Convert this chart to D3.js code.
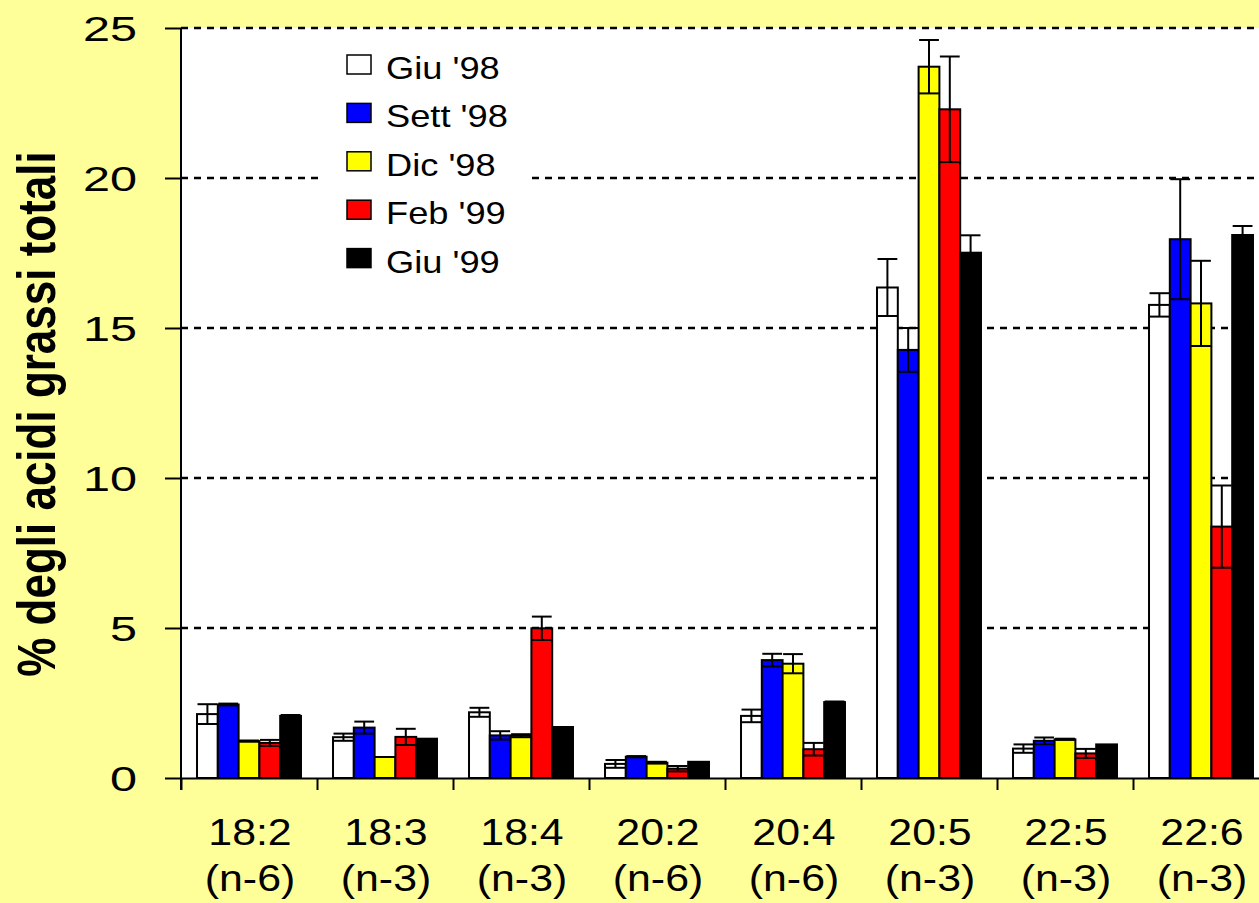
<!DOCTYPE html>
<html>
<head>
<meta charset="utf-8">
<script src="https://cdn.jsdelivr.net/npm/d3@7/dist/d3.min.js"></script>
<style>
  html, body { margin: 0; padding: 0; background: #FFFF99; }
  svg { display: block; font-family: Arial, "Liberation Sans", sans-serif; }
</style>
</head>
<body>
<svg id="chart" width="1259" height="903"></svg>
<script>
// Fatty acids (x groups), two-line labels
const acids = ["18:2", "18:3", "18:4", "20:2", "20:4", "20:5", "22:5", "22:6"];
const families = ["(n-6)", "(n-3)", "(n-3)", "(n-6)", "(n-6)", "(n-3)", "(n-3)", "(n-3)"];

// Sampling dates (series)
const seriesNames = ["Giu '98", "Sett '98", "Dic '98", "Feb '99", "Giu '99"];
const seriesColors = ["#FFFFFF", "#0000FF", "#FFFF00", "#FF0000", "#000000"];

// Mean % of total fatty acids, per series, in acid order
const giu98  = [2.13, 1.36, 2.19, 0.47, 2.07, 16.35, 0.98, 15.77];
const sett98 = [2.45, 1.68, 1.42, 0.71, 3.93, 14.27, 1.24, 17.96];
const dic98  = [1.23, 0.70, 1.41, 0.51, 3.81, 23.71, 1.29, 15.82];
const feb99  = [1.17, 1.37, 4.99, 0.31, 0.96, 22.29, 0.82, 8.38];
const giu99  = [2.07, 1.31, 1.70, 0.54, 2.53, 17.51, 1.12, 18.10];

// Error (± deviation) per series
const giu98Err  = [0.33, 0.12, 0.15, 0.13, 0.21, 0.95, 0.14, 0.39];
const sett98Err = [0.03, 0.20, 0.14, 0.02, 0.21, 0.73, 0.11, 2.00];
const dic98Err  = [0.02, 0.00, 0.05, 0.03, 0.32, 0.89, 0.02, 1.42];
const feb99Err  = [0.10, 0.27, 0.39, 0.09, 0.21, 1.76, 0.15, 1.37];
const giu99Err  = [0.03, 0.00, 0.00, 0.00, 0.02, 0.58, 0.00, 0.30];

const yTicks = [0, 5, 10, 15, 20, 25];

const values = [giu98, sett98, dic98, feb99, giu99];
const errors = [giu98Err, sett98Err, dic98Err, feb99Err, giu99Err];

const rows = [];
acids.forEach((a, i) => {
  seriesNames.forEach((s, j) => {
    rows.push({ acid: a, series: s, color: seriesColors[j], value: values[j][i], err: errors[j][i] });
  });
});

const svg = d3.select("#chart");
const W = 1259, H = 903;
const plotLeft = 181, plotTop = 28, plotBottom = 778;
const groupW = 136;

const y = d3.scaleLinear().domain([0, 25]).range([plotBottom, plotTop]);
const x0 = d3.scaleBand().domain(acids).range([plotLeft, plotLeft + groupW * acids.length]).padding(0);
const x1 = d3.scaleBand().domain(seriesNames).range([0, x0.bandwidth()]).paddingInner(0).paddingOuter(0.77);
const xEdge = d3.scaleLinear().domain([0, acids.length]).range([plotLeft, plotLeft + groupW * acids.length]);

// Background
svg.append("rect").attr("x", 0).attr("y", 0).attr("width", W).attr("height", H).attr("fill", "#FFFF99");
svg.append("rect").attr("x", plotLeft).attr("y", plotTop).attr("width", W - plotLeft).attr("height", plotBottom - plotTop).attr("fill", "#FFFFFF");

// Dashed gridlines
svg.append("g").selectAll("line")
  .data(yTicks.filter(d => d > 0))
  .join("line")
  .attr("x1", plotLeft).attr("x2", W)
  .attr("y1", d => y(d)).attr("y2", d => y(d))
  .attr("stroke", "#000").attr("stroke-width", 2.5)
  .attr("stroke-dasharray", "7,6");

// Legend panel sits on top of the grid
svg.append("rect").attr("x", 320).attr("y", 42).attr("width", 212).attr("height", 246).attr("fill", "#FFFFFF");

// Bars
const groups = svg.append("g").selectAll("g")
  .data(acids)
  .join("g")
  .attr("transform", d => `translate(${x0(d)},0)`);

groups.selectAll("rect")
  .data(a => rows.filter(r => r.acid === a))
  .join("rect")
  .attr("x", d => x1(d.series))
  .attr("y", d => y(d.value))
  .attr("width", x1.bandwidth())
  .attr("height", d => y(0) - y(d.value))
  .attr("fill", d => d.color)
  .attr("stroke", "#000")
  .attr("stroke-width", 2);

// Error bars with caps
const eb = groups.selectAll("g.err")
  .data(a => rows.filter(r => r.acid === a && r.err > 0))
  .join("g").attr("class", "err")
  .attr("stroke", "#000").attr("stroke-width", 2);
const capHalf = x1.bandwidth() / 2 - 0.5;
eb.append("line")
  .attr("x1", d => x1(d.series) + x1.bandwidth() / 2)
  .attr("x2", d => x1(d.series) + x1.bandwidth() / 2)
  .attr("y1", d => y(d.value + d.err))
  .attr("y2", d => y(d.value - d.err));
eb.append("line")
  .attr("x1", d => x1(d.series) + x1.bandwidth() / 2 - capHalf)
  .attr("x2", d => x1(d.series) + x1.bandwidth() / 2 + capHalf)
  .attr("y1", d => y(d.value + d.err))
  .attr("y2", d => y(d.value + d.err));
eb.append("line")
  .attr("x1", d => x1(d.series) + x1.bandwidth() / 2 - capHalf)
  .attr("x2", d => x1(d.series) + x1.bandwidth() / 2 + capHalf)
  .attr("y1", d => y(d.value - d.err))
  .attr("y2", d => y(d.value - d.err));

// Y axis
const yAxis = svg.append("g")
  .attr("transform", `translate(${plotLeft},0)`)
  .call(d3.axisLeft(y).tickValues(yTicks).tickSize(16).tickPadding(28).tickSizeOuter(0));
yAxis.select(".domain").remove();
yAxis.selectAll(".tick line").attr("stroke", "#000").attr("stroke-width", 2);
yAxis.selectAll(".tick text")
  .attr("font-size", 36)
  .attr("fill", "#000")
  .attr("font-family", "Arial, 'Liberation Sans', sans-serif")
  .each(function () {
    const t = d3.select(this);
    const tx = +t.attr("x");
    t.attr("x", 0).attr("dy", "0.36em").attr("transform", `translate(${tx},0) scale(1.35,1)`);
  });

// X axis with ticks at group boundaries
const xAxis = svg.append("g")
  .attr("transform", `translate(0,${plotBottom})`)
  .call(d3.axisBottom(xEdge).ticks(acids.length).tickFormat("").tickSize(12).tickSizeOuter(0));
xAxis.select(".domain").attr("stroke", "#000").attr("stroke-width", 2);
xAxis.selectAll(".tick line").attr("stroke", "#000").attr("stroke-width", 2);

// Y axis spine, running slightly below zero
svg.append("line")
  .attr("x1", plotLeft).attr("x2", plotLeft)
  .attr("y1", plotTop).attr("y2", plotBottom + 12)
  .attr("stroke", "#000").attr("stroke-width", 2);

// Category labels (two lines)
const xl = svg.append("g").selectAll("g")
  .data(acids)
  .join("g")
  .attr("transform", d => `translate(${x0(d) + x0.bandwidth() / 2 + 1},0) scale(1.19,1)`);
xl.append("text")
  .attr("y", 845).attr("text-anchor", "middle").attr("font-size", 36).attr("fill", "#000")
  .text(d => d);
xl.append("text")
  .attr("y", 891).attr("text-anchor", "middle").attr("font-size", 36).attr("fill", "#000")
  .text((d, i) => families[i]);

// Y title
svg.append("text")
  .attr("transform", "translate(55,414) scale(1.2,1) rotate(-90)")
  .attr("text-anchor", "middle")
  .attr("font-size", 44)
  .attr("font-weight", "bold")
  .attr("fill", "#000")
  .text("% degli acidi grassi totali");

// Legend
const leg = svg.append("g").selectAll("g")
  .data(seriesNames)
  .join("g")
  .attr("transform", (d, i) => `translate(347,${55 + i * 48.4})`);
leg.append("rect")
  .attr("width", 24).attr("height", 19)
  .attr("fill", (d, i) => seriesColors[i])
  .attr("stroke", "#000").attr("stroke-width", 1.5);
leg.append("text")
  .attr("transform", "translate(39,24) scale(1.17,1)")
  .attr("font-size", 31).attr("fill", "#000")
  .text(d => d);
</script>
</body>
</html>
